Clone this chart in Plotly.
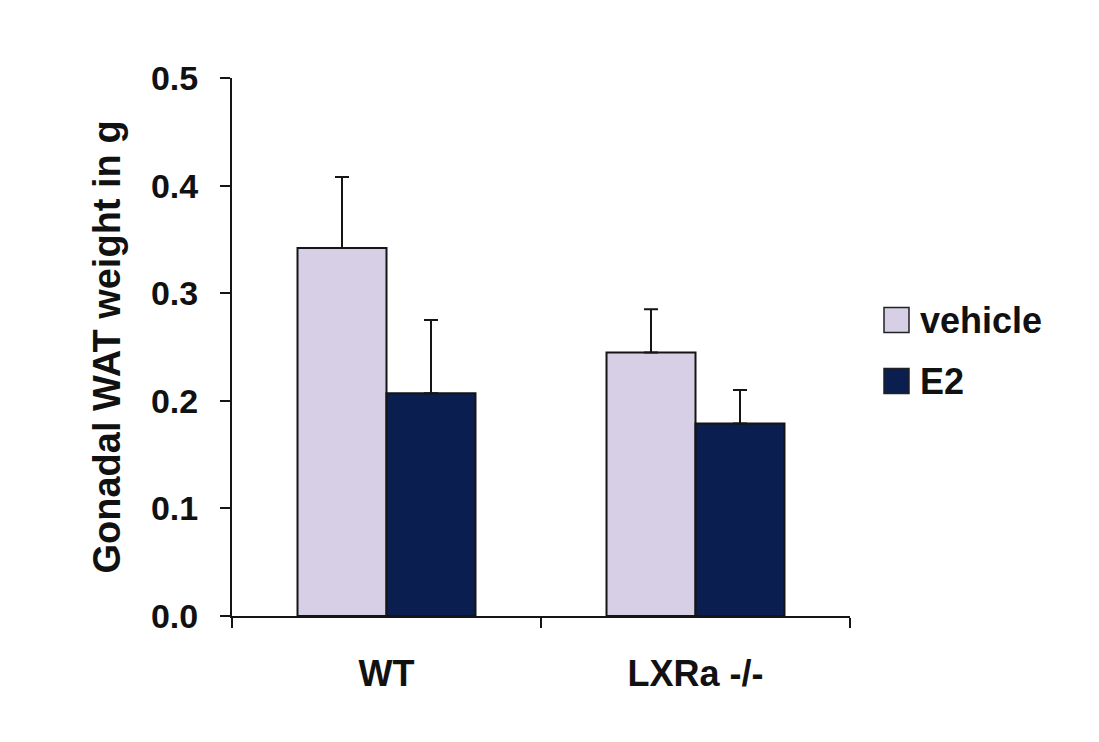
import plotly.graph_objects as go

# ---- data ----
categories = ["WT", "LXRa -/-"]
series_names = ["vehicle", "E2"]
vehicle_vals = [0.342, 0.245]
vehicle_err = [0.066, 0.040]
e2_vals = [0.207, 0.179]
e2_err = [0.068, 0.031]
y_ticks = [0.0, 0.1, 0.2, 0.3, 0.4, 0.5]

colors = {"vehicle": "#D6CFE6", "E2": "#0A1F50"}
FONT = "Liberation Sans, Arial, sans-serif"

# page body has an 8px margin, so the figure is sized/offset to compensate
W, H = 1091, 734
ML, MR, MT, MB = 224, 249, 70, 126
PW = W - ML - MR
PH = H - MT - MB

fig = go.Figure()
for name, vals, errs in [("vehicle", vehicle_vals, vehicle_err), ("E2", e2_vals, e2_err)]:
    fig.add_trace(go.Bar(
        name=name, x=categories, y=vals,
        marker=dict(color=colors[name], line=dict(color="#151515", width=2)),
        error_y=dict(type="data", array=errs, arrayminus=[0] * len(errs), symmetric=False,
                     color="#151515", thickness=2, width=7),
        showlegend=False,
    ))

# custom legend (swatches + labels) in paper coordinates
leg_x0 = (884 - 232) / PW
leg_w = 25 / PW
for i, name in enumerate(series_names):
    yc = 1 - (320 - 78 + i * 61) / PH
    fig.add_shape(type="rect", xref="paper", yref="paper",
                  x0=leg_x0, x1=leg_x0 + leg_w, y0=yc - 12.5 / PH, y1=yc + 12.5 / PH,
                  fillcolor=colors[name], line=dict(color="#222222", width=1.5))
    fig.add_annotation(xref="paper", yref="paper", x=(918 - 232) / PW, y=yc,
                       xanchor="left", yanchor="middle", text=name, showarrow=False,
                       font=dict(family=FONT, size=36, color="#111111", weight="bold"))

fig.update_layout(
    width=W, height=H,
    margin=dict(l=ML, r=MR, t=MT, b=MB),
    paper_bgcolor="white", plot_bgcolor="white",
    barmode="group", bargap=0.424, bargroupgap=0,
    font=dict(family=FONT, size=36, color="#111111", weight="bold"),
)
fig.update_xaxes(
    type="category", showline=True, linecolor="#151515", linewidth=2,
    ticks="outside", ticklen=10, tickwidth=2, tickcolor="#151515",
    tickson="boundaries", ticklabelstandoff=25, showgrid=False, zeroline=False,
    tickfont=dict(family=FONT, size=36, color="#111111", weight="bold"),
)
fig.update_yaxes(
    range=[0, 0.5], tickvals=y_ticks, tickformat=".1f",
    showline=True, linecolor="#151515", linewidth=2,
    ticks="outside", ticklen=10, tickwidth=2, tickcolor="#151515",
    ticklabelstandoff=15, showgrid=False, zeroline=False,
    tickfont=dict(family=FONT, size=34, color="#111111", weight="bold"),
    title=dict(text="Gonadal WAT weight in g", standoff=19,
               font=dict(family=FONT, size=38, color="#111111", weight="bold")),
)

fig.write_html("out.html")
